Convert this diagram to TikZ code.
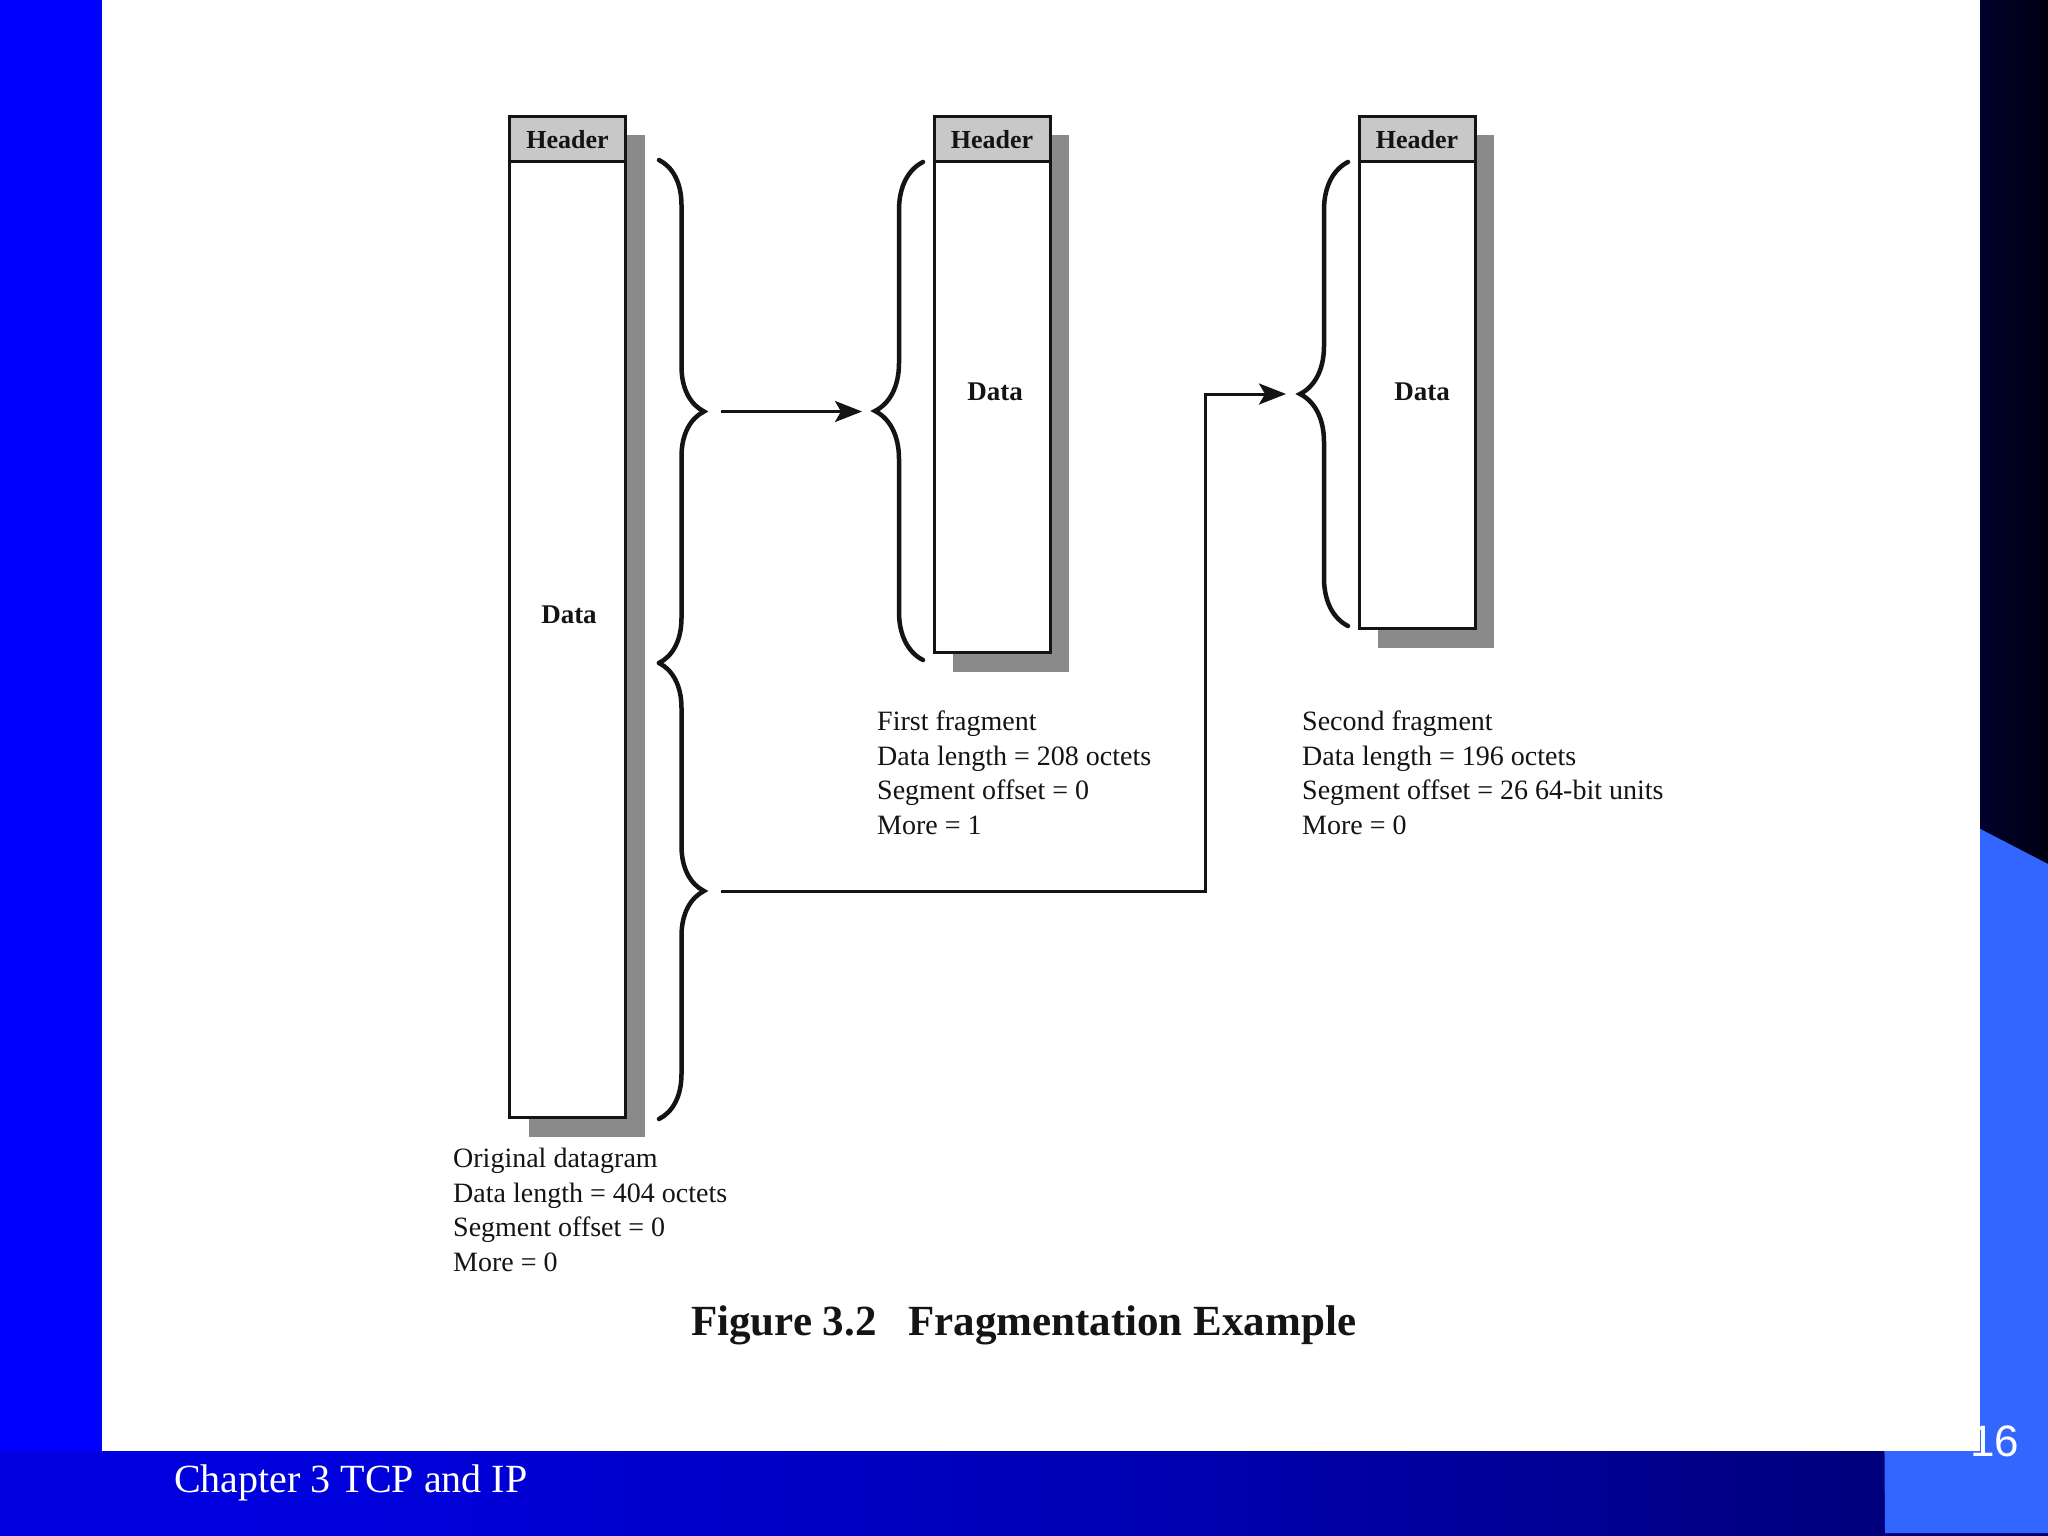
\documentclass[tikz,border=0pt]{standalone}
\usepackage{fontspec}
\setmainfont{Liberation Serif}
\newfontfamily\slidesans{Liberation Sans}
\usetikzlibrary{arrows.meta,decorations.pathreplacing,calc}
\definecolor{slideblue}{HTML}{0000FF}
\definecolor{bandA}{HTML}{0000F0}
\definecolor{bandB}{HTML}{0000DC}
\definecolor{bandC}{HTML}{0000B0}
\definecolor{bandD}{HTML}{000070}
\definecolor{bandE}{HTML}{00002C}
\definecolor{bandF}{HTML}{000020}
\definecolor{navyL}{HTML}{00002C}
\definecolor{navyR}{HTML}{000012}
\definecolor{lightblue}{HTML}{3366FF}
\definecolor{hdrgray}{HTML}{C8C8C8}
\definecolor{shadowgray}{HTML}{8A8A8A}
\definecolor{ink}{HTML}{141414}
\pgfdeclarehorizontalshading{bandshade}{100bp}{color(0bp)=(bandA); color(34bp)=(bandB); color(54bp)=(bandC); color(75bp)=(bandD); color(92bp)=(bandE); color(100bp)=(bandF)}
\pgfdeclarelayer{slidebg}
\pgfdeclarelayer{shadowlayer}
\pgfsetlayers{slidebg,shadowlayer,main}
\tikzset{
  hdrbox/.style={draw=ink, line width=3pt, fill=hdrgray, minimum width=116pt, minimum height=45.5pt, inner sep=0pt, outer sep=0pt, anchor=north, font=\fontsize{26}{30}\selectfont\bfseries, text=ink},
  bodybox/.style={draw=ink, line width=3pt, fill=white, minimum width=116pt, inner sep=0pt, outer sep=0pt, anchor=north},
  datalbl/.style={font=\fontsize{27}{30}\selectfont\bfseries, text=ink, inner sep=0pt},
  infotxt/.style={font=\fontsize{28}{34}\selectfont, text=ink, anchor=base west, inner sep=0pt},
  bracedec/.style={decorate, decoration={brace, amplitude=#1}, line width=4.5pt, draw=ink, line cap=round},
  conn/.style={draw=ink, line width=3pt, -{Stealth[length=27pt,width=21pt,inset=6pt]}},
  captxt/.style={font=\fontsize{43}{50}\selectfont\bfseries, text=ink, anchor=base west, inner sep=0pt},
}
\begin{document}
\begin{tikzpicture}[x=1pt,y=-1pt]
\useasboundingbox (0,0) rectangle (2048,1536);
% ---------- slide background ----------
\begin{pgfonlayer}{slidebg}
  \fill[slideblue] (0,0) rectangle (102,1536);
  \shade[left color=navyL, right color=navyR] (1980,0) rectangle (2048,1536);
  \shade[shading=bandshade] (0,1451) rectangle (2048,1536);
  \fill[lightblue] (1880,777) -- (2048,864) -- (2048,1533) -- (1885,1533) -- cycle;
  \fill[white] (102,0) rectangle (1980,1451);
\end{pgfonlayer}
% ---------- boxes ----------
\node[hdrbox] (h0) at (567.5,116.5) {Header};
\node[bodybox, minimum height=955.5pt] (b0) at (h0.south) {};
\node[hdrbox] (h1) at (992,116.5) {Header};
\node[bodybox, minimum height=490.5pt] (b1) at (h1.south) {};
\node[hdrbox] (h2) at (1417,116.5) {Header};
\node[bodybox, minimum height=466.5pt] (b2) at (h2.south) {};
\node[datalbl] (d0) at (569,615) {Data};
\node[datalbl] (d1) at (995,392) {Data};
\node[datalbl] (d2) at (1422,392) {Data};
% shadows
\begin{pgfonlayer}{shadowlayer}
  \fill[shadowgray] ($(h0.north west)+(19,19)$) rectangle ($(b0.south east)+(19,19)$);
  \fill[shadowgray] ($(h1.north west)+(19,19)$) rectangle ($(b1.south east)+(19,19)$);
  \fill[shadowgray] ($(h2.north west)+(19,19)$) rectangle ($(b2.south east)+(19,19)$);
\end{pgfonlayer}
% ---------- braces ----------
\coordinate (oA) at (659,160);
\coordinate (oB) at (659,663);
\coordinate (oC) at (659,1119);
\coordinate (fAb) at (923,660);
\coordinate (fAt) at (923,162);
\coordinate (fBb) at (1348,626);
\coordinate (fBt) at (1348,162);
\draw[bracedec=45pt] (oA) -- (oB);
\draw[bracedec=45pt] (oB) -- (oC);
\draw[bracedec=48pt] (fAb) -- (fAt);
\draw[bracedec=48pt] (fBb) -- (fBt);
\coordinate (tipA) at ($(oA)!0.5!(oB)+(45,0)$);
\coordinate (tipB) at ($(oB)!0.5!(oC)+(45,0)$);
\coordinate (tipF1) at ($(fAb)!0.5!(fAt)+(-48,0)$);
\coordinate (tipF2) at ($(fBb)!0.5!(fBt)+(-48,0)$);
% ---------- connectors ----------
\coordinate (a1s) at ($(tipA)+(17,0)$);
\coordinate (a1e) at ($(tipF1)+(-13,0)$);
\draw[conn] (a1s) -- (a1e |- a1s);
\coordinate (a2s) at ($(tipB)+(17,0)$);
\coordinate (a2c) at (1205,0);
\coordinate (a2e) at ($(tipF2)+(-14,0)$);
\draw[conn] (a2s) -- (a2c |- a2s) |- (a2e);
% ---------- labels ----------
\node[infotxt] (o1) at (453,1167) {Original datagram};
\node[infotxt] (o2) at (453,1202) {Data length = 404 octets};
\node[infotxt] (o3) at (453,1236) {Segment offset = 0};
\node[infotxt] (o4) at (453,1271) {More = 0};
\node[infotxt] (p1) at (877,730) {First fragment};
\node[infotxt] (p2) at (877,765) {Data length = 208 octets};
\node[infotxt] (p3) at (877,799) {Segment offset = 0};
\node[infotxt] (p4) at (877,834) {More = 1};
\node[infotxt] (q1) at (1302,730) {Second fragment};
\node[infotxt] (q2) at (1302,765) {Data length = 196 octets};
\node[infotxt] (q3) at (1302,799) {Segment offset = 26 64-bit units};
\node[infotxt] (q4) at (1302,834) {More = 0};
\node[captxt] (cap1) at (691,1335) {Figure 3.2};
\node[captxt] (cap2) at (908,1335) {Fragmentation Example};
% ---------- slide footer ----------
\node[font=\fontsize{40}{48}\selectfont, text=white, anchor=base west, inner sep=0pt] (footer) at (174,1492) {Chapter 3 TCP and IP};
\node[font=\slidesans\fontsize{44}{50}\selectfont, text=white, anchor=base west, inner sep=0pt] (pnum) at (1970,1456) {16};
\end{tikzpicture}
\end{document}
